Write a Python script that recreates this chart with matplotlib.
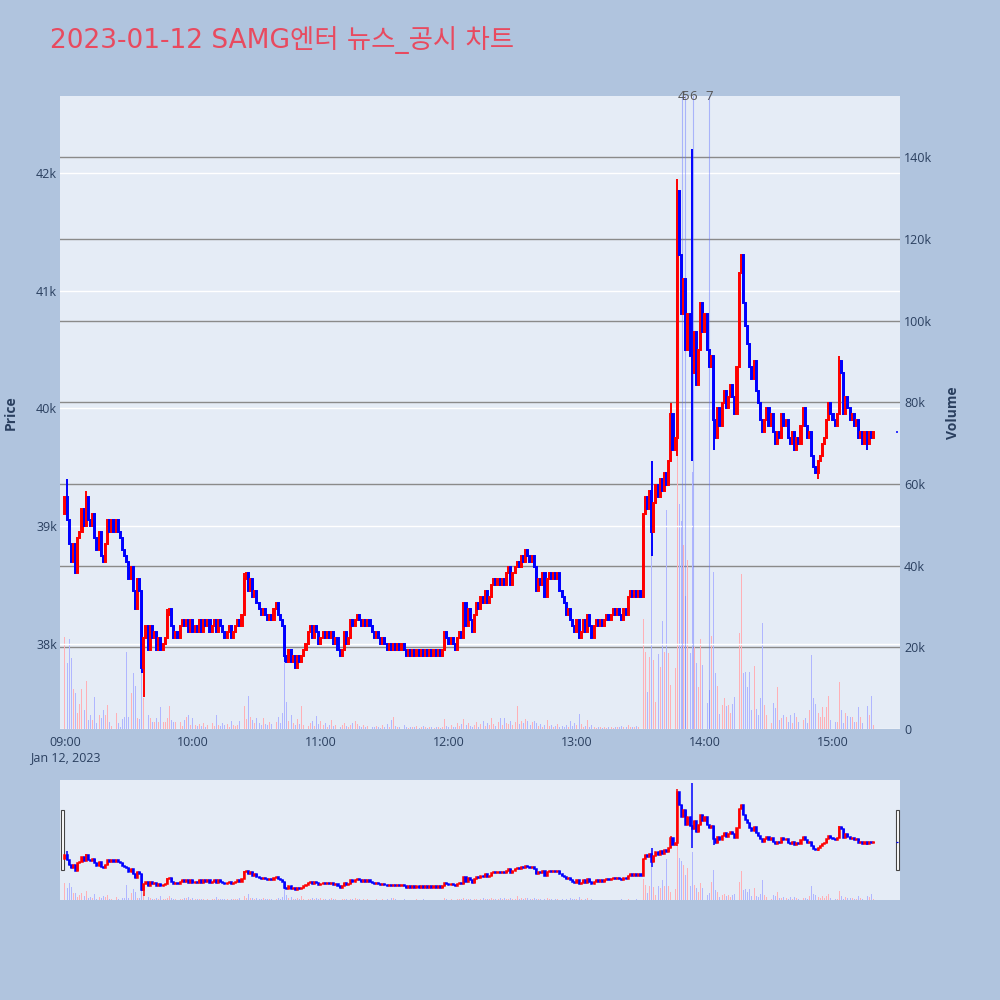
import numpy as np
import pandas as pd
import matplotlib
matplotlib.use('Agg')
import matplotlib.pyplot as plt
import matplotlib.dates as mdates
from matplotlib.patches import Rectangle

plt.rcParams['font.family'] = ['Open Sans', 'DejaVu Sans']

TITLE = '2023-01-12 SAMG엔터 뉴스_공시 차트'
START = '2023-01-12 09:00'
FIRST_OPEN = 39100

# one close per minute, 09:00 .. 15:19
CLOSE = [
    39250, 39050, 38850, 38700, 38850, 38600, 38900, 38950, 39150, 39000,
    39250, 39050, 39000, 39100, 38900, 38800, 38950, 38750, 38700, 38850,
    39050, 38950, 39050, 38950, 39050, 38950, 38900, 38800, 38750, 38700,
    38550, 38650, 38450, 38300, 38550, 38450, 37800, 38050, 38150, 37950,
    38150, 38050, 38100, 37950, 38050, 37950, 38000, 38050, 38250, 38300,
    38150, 38050, 38100, 38050, 38150, 38200, 38150, 38200, 38100, 38200,
    38100, 38150, 38100, 38200, 38100, 38200, 38150, 38200, 38100, 38150,
    38200, 38100, 38200, 38150, 38100, 38050, 38100, 38150, 38050, 38100,
    38150, 38200, 38150, 38250, 38550, 38600, 38450, 38550, 38400, 38450,
    38350, 38300, 38250, 38300, 38250, 38200, 38250, 38200, 38300, 38350,
    38250, 38200, 38150, 37900, 37850, 37950, 37850, 37900, 37800, 37900,
    37850, 37900, 37950, 38000, 38100, 38150, 38050, 38150, 38100, 38000,
    38050, 38100, 38050, 38100, 38050, 38100, 38000, 38050, 37950, 37900,
    37950, 38100, 38000, 38050, 38200, 38150, 38200, 38250, 38200, 38150,
    38200, 38150, 38200, 38150, 38100, 38050, 38100, 38050, 38000, 38050,
    38000, 37950, 38000, 37950, 38000, 37950, 38000, 37950, 38000, 37950,
    37900, 37950, 37900, 37950, 37900, 37950, 37900, 37950, 37900, 37950,
    37900, 37950, 37900, 37950, 37900, 37950, 37900, 37950, 38100, 38050,
    38000, 38050, 38000, 37950, 38050, 38100, 38050, 38350, 38150, 38300,
    38200, 38100, 38250, 38350, 38300, 38400, 38350, 38450, 38350, 38400,
    38500, 38550, 38500, 38550, 38500, 38550, 38500, 38600, 38650, 38500,
    38600, 38650, 38700, 38650, 38750, 38700, 38800, 38750, 38700, 38750,
    38650, 38450, 38550, 38500, 38600, 38400, 38550, 38600, 38550, 38600,
    38550, 38600, 38450, 38400, 38350, 38250, 38300, 38200, 38150, 38100,
    38200, 38050, 38100, 38200, 38100, 38250, 38150, 38050, 38150, 38200,
    38150, 38200, 38150, 38200, 38250, 38200, 38250, 38300, 38250, 38300,
    38250, 38200, 38300, 38250, 38400, 38450, 38400, 38450, 38400, 38450,
    38400, 39100, 39250, 39150, 39300, 38950, 39200, 39350, 39250, 39400,
    39300, 39450, 39350, 39550, 39950, 39650, 39750, 41850, 41300, 40800,
    41100, 40500, 40800, 40450, 40300, 40650, 40200, 40500, 40900, 40650,
    40800, 40500, 40350, 40450, 39900, 39750, 40000, 39850, 40050, 40150,
    40000, 40100, 40200, 40100, 39950, 40350, 41150, 41300, 40900, 40700,
    40550, 40350, 40250, 40400, 40150, 40050, 39900, 39800, 39900, 40000,
    39850, 39950, 39800, 39700, 39800, 39750, 39950, 39850, 39900, 39750,
    39700, 39800, 39650, 39750, 39700, 39850, 40000, 39850, 39750, 39800,
    39600, 39500, 39450, 39550, 39600, 39700, 39750, 39900, 40050, 39950,
    39900, 39850, 39950, 40400, 40300, 39950, 40100, 40000, 39900, 39950,
    39850, 39900, 39750, 39800, 39700, 39800, 39700, 39800, 39750, 39800,
]

# traded volume per minute, thousands of shares
VOLUME_K = [
    22.6, 16.1, 22.0, 17.3, 9.7, 8.7, 3.8, 6.1, 9.7, 4.7,
    11.8, 2.2, 3.4, 2.2, 7.9, 1.4, 3.4, 2.6, 4.7, 3.4,
    5.9, 1.8, 0.7, 1.8, 3.9, 1.4, 0.6, 2.4, 3.0, 18.9,
    3.0, 8.9, 13.7, 10.5, 2.6, 2.4, 14.9, 7.5, 5.5, 3.4,
    2.6, 1.8, 1.6, 2.6, 1.6, 5.5, 1.6, 1.6, 2.6, 5.6,
    2.2, 1.8, 1.6, 2.6, 1.8, 0.7, 2.2, 3.0, 3.4, 1.0,
    2.6, 1.0, 0.7, 1.2, 0.8, 1.5, 0.6, 1.0, 0.9, 1.4,
    0.8, 3.4, 1.0, 0.7, 1.5, 0.9, 1.2, 0.6, 1.9, 1.0,
    0.8, 1.1, 2.0, 3.5, 5.7, 2.5, 8.2, 3.0, 2.2, 1.5,
    2.8, 1.4, 1.0, 2.6, 1.2, 0.9, 1.8, 1.3, 2.4, 1.7,
    3.0, 1.5, 4.0, 18.5, 6.7, 2.0, 3.4, 1.4, 0.9, 2.5,
    1.2, 5.7, 1.0, 1.8, 0.8, 1.4, 2.0, 0.7, 3.2, 1.2,
    2.0, 0.9, 1.5, 0.6, 1.1, 2.2, 0.8, 1.0, 1.6, 0.5,
    0.9, 1.4, 0.7, 0.6, 1.0, 1.5, 2.0, 1.2, 0.8, 0.6,
    1.0, 0.5, 0.7, 1.2, 0.4, 0.6, 0.8, 0.5, 0.3, 1.0,
    0.6, 1.2, 0.5, 2.2, 3.0, 0.8, 0.4, 0.6, 0.5, 1.0,
    0.4, 0.3, 0.6, 0.4, 0.5, 0.8, 0.3, 0.4, 0.7, 0.5,
    0.3, 0.4, 0.6, 0.3, 0.5, 0.4, 0.3, 0.5, 2.4, 0.8,
    0.5, 1.0, 0.4, 0.6, 1.5, 0.8, 1.2, 2.4, 0.9, 1.4,
    0.7, 0.5, 1.0, 1.8, 0.6, 1.2, 2.0, 0.8, 1.5, 1.0,
    2.6, 1.2, 0.8, 1.8, 2.6, 1.0, 2.6, 1.5, 1.2, 2.0,
    1.0, 1.6, 5.6, 1.2, 2.0, 1.5, 2.4, 2.0, 0.9, 1.8,
    2.0, 1.4, 0.8, 1.2, 0.6, 1.0, 2.2, 0.7, 0.9, 0.5,
    0.8, 1.2, 0.5, 0.7, 0.6, 1.0, 0.4, 2.0, 0.8, 1.5,
    1.0, 3.6, 1.2, 0.6, 0.8, 2.2, 0.5, 0.9, 0.4, 0.3,
    0.6, 0.4, 0.3, 0.5, 0.3, 0.4, 0.6, 0.3, 0.5, 0.4,
    0.5, 0.8, 0.6, 0.4, 1.0, 0.6, 0.5, 0.4, 0.8, 0.6,
    0.7, 26.9, 18.9, 9.0, 17.7, 42.6, 16.9, 6.7, 18.4, 15.3,
    26.5, 18.8, 53.6, 18.7, 10.8, 30.9, 14.9, 134.0, 55.0, 51.0,
    45.0, 32.5, 41.4, 18.6, 63.0, 20.0, 16.1, 10.4, 22.0, 15.7,
    13.9, 6.3, 9.5, 22.8, 38.4, 13.6, 10.5, 3.7, 5.9, 7.5,
    5.7, 5.9, 3.8, 6.1, 7.8, 30.5, 23.4, 37.9, 13.6, 14.0,
    10.4, 14.0, 4.7, 15.4, 4.8, 3.4, 7.5, 26.0, 5.9, 3.4,
    2.2, 1.4, 6.4, 5.1, 10.4, 2.2, 2.6, 3.4, 3.0, 1.6,
    3.4, 1.4, 3.8, 2.9, 1.8, 1.6, 2.2, 2.6, 1.4, 4.7,
    18.1, 7.5, 6.0, 3.8, 3.0, 5.3, 2.9, 5.5, 8.1, 2.2,
    3.0, 1.8, 1.6, 11.6, 4.7, 1.4, 3.8, 3.2, 3.0, 2.9,
    1.8, 1.8, 5.5, 2.9, 1.4, 6.9, 5.6, 3.4, 8.2, 1.0,
]

# shadows that stick out beyond the candle body (minute index: price)
HIGH_WICKS = {1: 39400, 10: 39300, 48: 38300, 84: 38600, 187: 38350, 216: 38800,
              275: 39550, 284: 40050, 287: 41950, 294: 42200, 317: 41300, 363: 40450}
LOW_WICKS = {5: 38600, 36: 37750, 37: 37550, 103: 37850, 275: 38750, 287: 39600,
             294: 39550, 304: 39650, 353: 39400, 376: 39650}

# closing auction
AUCTION_TIME = '2023-01-12 15:30'
AUCTION_PRICE = 39800
AUCTION_VOLUME_K = 27.5

NEWS_TIMES = ['2023-01-12 13:49:00', '2023-01-12 13:50:30',
              '2023-01-12 13:54:30', '2023-01-12 14:02:00']
NEWS_LABELS = ['4', '5', '6', '7']

PRICE_TICKS = [38000, 39000, 40000, 41000, 42000]
VOLUME_TICKS = [0, 20000, 40000, 60000, 80000, 100000, 120000, 140000]

UP, DOWN = '#ff0000', '#0000ff'
UP_VOL, DOWN_VOL = '#ffb0b6', '#b0b6ff'
BG, PLOT_BG, TXT = '#b0c4de', '#e5ecf6', '#2a3f5f'
MIN = 1 / 1440

# build candles
times = pd.date_range(START, periods=len(CLOSE), freq='min')
x = mdates.date2num(times.to_pydatetime())
close = np.array(CLOSE, dtype=float)
open_ = np.concatenate([[FIRST_OPEN], close[:-1]])
high = np.maximum(open_, close)
low = np.minimum(open_, close)
for k, v in HIGH_WICKS.items():
    high[k] = v
for k, v in LOW_WICKS.items():
    low[k] = v
up = close >= open_
colors = np.where(up, UP, DOWN)
vol_colors = np.where(up, UP_VOL, DOWN_VOL)
vol = np.array(VOLUME_K) * 1000

x_auc = mdates.date2num(pd.Timestamp(AUCTION_TIME).to_pydatetime())
x0 = mdates.date2num(pd.Timestamp(START).to_pydatetime())
xlim = (x0 - 2.3 * MIN, x0 + 391.4 * MIN)


def draw(ax, axv, lw):
    axv.bar(x, vol, width=0.45 * MIN, color=vol_colors, linewidth=0, zorder=2)
    axv.bar([x_auc], [AUCTION_VOLUME_K * 1000], width=0.45 * MIN, color=DOWN_VOL,
            linewidth=0, zorder=2)
    ax.vlines(x, low, high, colors=colors, linewidth=lw, zorder=3)
    ax.bar(x, close - open_, bottom=open_, width=0.5 * MIN, color=colors,
           edgecolor=colors, linewidth=lw, zorder=3)
    ax.bar([x_auc], [0], bottom=[AUCTION_PRICE], width=0.5 * MIN, color=DOWN,
           edgecolor=DOWN, linewidth=lw * 0.8, zorder=3)


def stack(rect):
    ax = fig.add_axes(rect)
    axv = ax.twinx()
    ax.set_zorder(axv.get_zorder() + 1)
    ax.patch.set_visible(False)
    axv.patch.set_visible(True)
    axv.set_facecolor(PLOT_BG)
    for a in (ax, axv):
        for s in a.spines.values():
            s.set_visible(False)
        a.tick_params(length=0)
    ax.set_xlim(*xlim)
    return ax, axv


fig = plt.figure(figsize=(10, 10), dpi=100, facecolor=BG)

# main chart
ax, axv = stack([0.06, 0.271, 0.84, 0.633])
draw(ax, axv, 1.4)
ax.set_ylim(37278, 42654)
axv.set_ylim(0, 155000)

ax.set_yticks(PRICE_TICKS)
ax.set_yticklabels(['%dk' % (p // 1000) for p in PRICE_TICKS])
ax.yaxis.grid(True, color='white', linewidth=1.0)
axv.set_yticks(VOLUME_TICKS)
axv.set_yticklabels(['0' if v == 0 else '%dk' % (v // 1000) for v in VOLUME_TICKS])
for v in VOLUME_TICKS:
    axv.axhline(v, color='white' if v == 0 else '#8a8a8a', linewidth=1.0, zorder=1)
ax.tick_params(axis='y', labelsize=9, labelcolor=TXT, pad=2)
axv.tick_params(axis='y', labelsize=9, labelcolor=TXT, pad=3)

ax.xaxis.set_major_locator(mdates.HourLocator())


def fmt(v, pos):
    d = mdates.num2date(v)
    s = d.strftime('%H:%M')
    if d.hour == 9:
        s += '\nJan 12, 2023'
    return s


ax.xaxis.set_major_formatter(plt.FuncFormatter(fmt))
ax.tick_params(axis='x', labelsize=9, labelcolor=TXT, pad=5)

for t, lab in zip(NEWS_TIMES, NEWS_LABELS):
    tx = mdates.date2num(pd.Timestamp(t).to_pydatetime())
    ax.axvline(tx, color='#6070ff', alpha=0.45, linewidth=0.8, zorder=2)
    ax.text(tx, 1.0, lab, transform=ax.get_xaxis_transform(), ha='center',
            va='center', fontsize=9.5, color='#555555')

# range slider
sl, slv = stack([0.06, 0.10, 0.84, 0.12])
draw(sl, slv, 1.1)
sl.set_ylim(low.min() - 160, high.max() + 140)
slv.set_ylim(0, 156000)
for a in (sl, slv):
    a.set_xticks([])
    a.set_yticks([])

for hx in (0.0605, 0.8955):
    fig.add_artist(Rectangle((hx, 0.13), 0.0035, 0.06, transform=fig.transFigure,
                             facecolor='white', edgecolor='#444444', linewidth=0.8))

fig.text(0.05, 0.96, TITLE, fontsize=19, color='#e84a5f', va='center',
         family=['DejaVu Sans', 'Noto Sans CJK KR'])
fig.text(0.011, 0.5875, 'Price', rotation=90, fontsize=10, fontweight='bold',
         color=TXT, ha='center', va='center')
fig.text(0.953, 0.5875, 'Volume', rotation=90, fontsize=10, fontweight='bold',
         color=TXT, ha='center', va='center')

fig.savefig('out.png', dpi=100, facecolor=BG)
